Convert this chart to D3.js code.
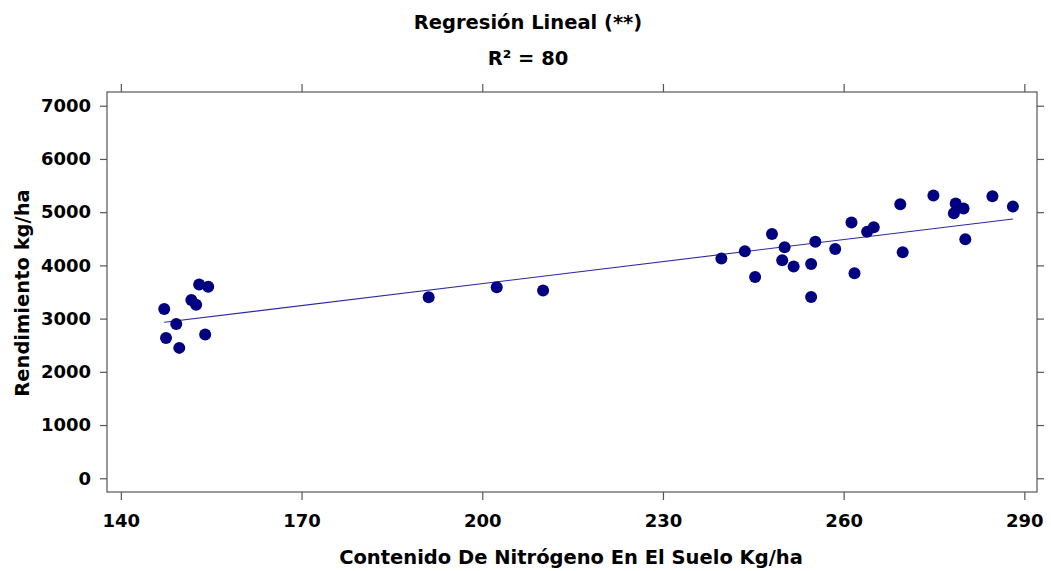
<!DOCTYPE html>
<html>
<head>
<meta charset="utf-8">
<script src="https://cdn.jsdelivr.net/npm/d3@7"></script>
<style>
  html, body { margin: 0; padding: 0; background: #fff; }
  svg text { font-family: "DejaVu Sans", Verdana, sans-serif; font-weight: bold; fill: #000; }
</style>
</head>
<body>
<svg id="chart" width="1051" height="571"></svg>
<script>
// Soil nitrogen content (kg/ha) and yield (kg/ha) for each plot
const nitrogen = [
  147.2, 147.5, 149.2, 149.7, 151.7, 152.5, 153.0, 154.5, 154.0,
  191.1, 202.4, 210.1,
  239.7, 243.6, 245.3, 248.1, 249.8, 250.2, 251.7, 254.6, 254.6, 255.3,
  258.6, 261.8, 261.3, 263.9, 265.0,
  269.4, 269.8, 274.9, 278.6, 278.3, 279.9, 280.2, 284.7, 288.1
];
const yieldKg = [
  3180, 2635, 2900, 2450, 3350, 3260, 3640, 3600, 2700,
  3400, 3590, 3526,
  4128, 4267, 3784, 4592, 4098, 4342, 3977, 4028, 3408, 4442,
  4310, 3853, 4805, 4630, 4718,
  5150, 4248, 5312, 5162, 4981, 5068, 4492, 5301, 5105
];
const xTicks = [140, 170, 200, 230, 260, 290];
const yTicks = [0, 1000, 2000, 3000, 4000, 5000, 6000, 7000];

const titleText = "Regresión Lineal (**)";
const r2Text = "R² = 80";
const xTitle = "Contenido De Nitrógeno En El Suelo Kg/ha";
const yTitle = "Rendimiento kg/ha";

const svg = d3.select("#chart");
const plotL = 107, plotR = 1037, plotT = 92, plotB = 492;

const x = d3.scaleLinear().domain([137.7, 292.1]).range([plotL, plotR]);
const y = d3.scaleLinear().domain([-258, 7258]).range([plotB, plotT]);

// Frame
svg.append("rect")
  .attr("x", plotL).attr("y", plotT)
  .attr("width", plotR - plotL).attr("height", plotB - plotT)
  .attr("fill", "none").attr("stroke", "#555").attr("stroke-width", 1.2);

function styleAxis(g) {
  g.select(".domain").remove();
  g.selectAll(".tick line").attr("stroke", "#555").attr("stroke-width", 1.2);
  g.selectAll("text")
    .attr("font-size", 18)
    .attr("fill", "#000")
    .attr("font-family", "'DejaVu Sans', Verdana, sans-serif")
    .attr("font-weight", "bold");
}

svg.append("g").attr("transform", `translate(0,${plotB})`)
  .call(d3.axisBottom(x).tickValues(xTicks).tickSize(8).tickPadding(14).tickFormat(d3.format("d")))
  .call(styleAxis);
svg.append("g").attr("transform", `translate(0,${plotT})`)
  .call(d3.axisTop(x).tickValues(xTicks).tickSize(8).tickFormat(""))
  .call(styleAxis);
svg.append("g").attr("transform", `translate(${plotL},0)`)
  .call(d3.axisLeft(y).tickValues(yTicks).tickSize(7).tickPadding(9).tickFormat(d3.format("d")))
  .call(styleAxis);
svg.append("g").attr("transform", `translate(${plotR},0)`)
  .call(d3.axisRight(y).tickValues(yTicks).tickSize(7).tickFormat(""))
  .call(styleAxis);

// Least-squares fit over the observed nitrogen range
const n = nitrogen.length;
const mx = d3.mean(nitrogen), my = d3.mean(yieldKg);
let sxy = 0, sxx = 0;
for (let i = 0; i < n; i++) {
  sxy += (nitrogen[i] - mx) * (yieldKg[i] - my);
  sxx += (nitrogen[i] - mx) ** 2;
}
const slope = sxy / sxx, intercept = my - slope * mx;
const [xmin, xmax] = d3.extent(nitrogen);
svg.append("line")
  .attr("x1", x(xmin)).attr("y1", y(intercept + slope * xmin))
  .attr("x2", x(xmax)).attr("y2", y(intercept + slope * xmax))
  .attr("stroke", "#2a2aa0").attr("stroke-width", 1.1);

// Observations
svg.append("g").selectAll("circle")
  .data(d3.range(n))
  .join("circle")
  .attr("cx", i => x(nitrogen[i]))
  .attr("cy", i => y(yieldKg[i]))
  .attr("r", 6)
  .attr("fill", "#000080");

// Titles
svg.append("text").attr("x", 528).attr("y", 29).attr("text-anchor", "middle")
  .attr("font-size", 19.5).text(titleText);
svg.append("text").attr("x", 528).attr("y", 64.5).attr("text-anchor", "middle")
  .attr("font-size", 19.5).text(r2Text);
svg.append("text").attr("x", 571).attr("y", 564).attr("text-anchor", "middle")
  .attr("font-size", 19.5).text(xTitle);
svg.append("text").attr("transform", "translate(29,293) rotate(-90)")
  .attr("text-anchor", "middle").attr("font-size", 19.5).text(yTitle);
</script>
</body>
</html>
